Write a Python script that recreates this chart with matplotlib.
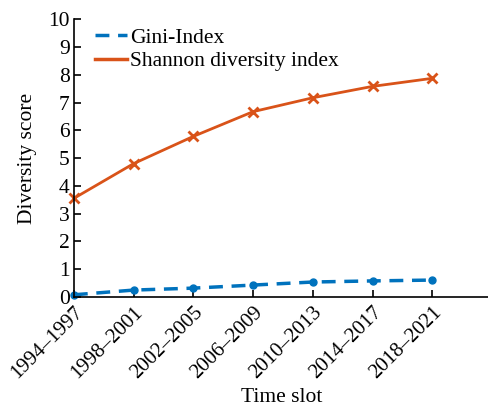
import numpy as np
import matplotlib.pyplot as plt
from matplotlib.lines import Line2D

plt.rc('font', family='Liberation Serif', size=15.5)

slots = ['1994–1997', '1998–2001', '2002–2005', '2006–2009',
         '2010–2013', '2014–2017', '2018–2021']
gini = [0.08, 0.25, 0.32, 0.43, 0.54, 0.58, 0.61]
shannon = [3.55, 4.8, 5.78, 6.67, 7.17, 7.58, 7.87]

blue = '#0072BD'
orange = '#D95319'

fig = plt.figure(figsize=(4.89, 4.16), dpi=100)
ax = fig.add_axes([0.151, 0.286, 0.849, 0.668])

x = np.arange(len(slots))
ax.plot(x, gini, color=blue, linewidth=2.5, linestyle=(0, (4, 2.5)),
        marker='o', markersize=5, clip_on=False)
ax.plot(x, shannon, color=orange, linewidth=2, linestyle='solid',
        marker='x', markersize=7, markeredgewidth=2, clip_on=False)

ax.set_xlim(0, 6.95)
ax.set_ylim(0, 10)
ax.set_yticks(np.arange(0, 11, 1))
ax.set_xticks(x)
ax.set_xticklabels(slots, rotation=45, ha='right', rotation_mode='anchor')
ax.tick_params(direction='in', length=5, width=1.2, labelsize=15.5)
ax.tick_params(axis='x', labelsize=15, pad=4)
ax.tick_params(axis='y', pad=3)
ax.spines['top'].set_visible(False)
ax.spines['right'].set_visible(False)
ax.spines['left'].set_linewidth(1.2)
ax.spines['bottom'].set_linewidth(1.2)

ax.set_ylabel('Diversity score', labelpad=8)
ax.set_xlabel('Time slot', labelpad=4)

handles = [Line2D([], [], color=blue, linewidth=2.5, linestyle=(0, (4, 2.5))),
           Line2D([], [], color=orange, linewidth=2.5)]
ax.legend(handles, ['Gini-Index', 'Shannon diversity index'], loc='upper left',
          frameon=False, handlelength=1.5, handletextpad=0.15,
          borderaxespad=0.1, labelspacing=0.15, borderpad=0.3,
          bbox_to_anchor=(0.03, 1.0))

fig.savefig('out.png', dpi=100)
